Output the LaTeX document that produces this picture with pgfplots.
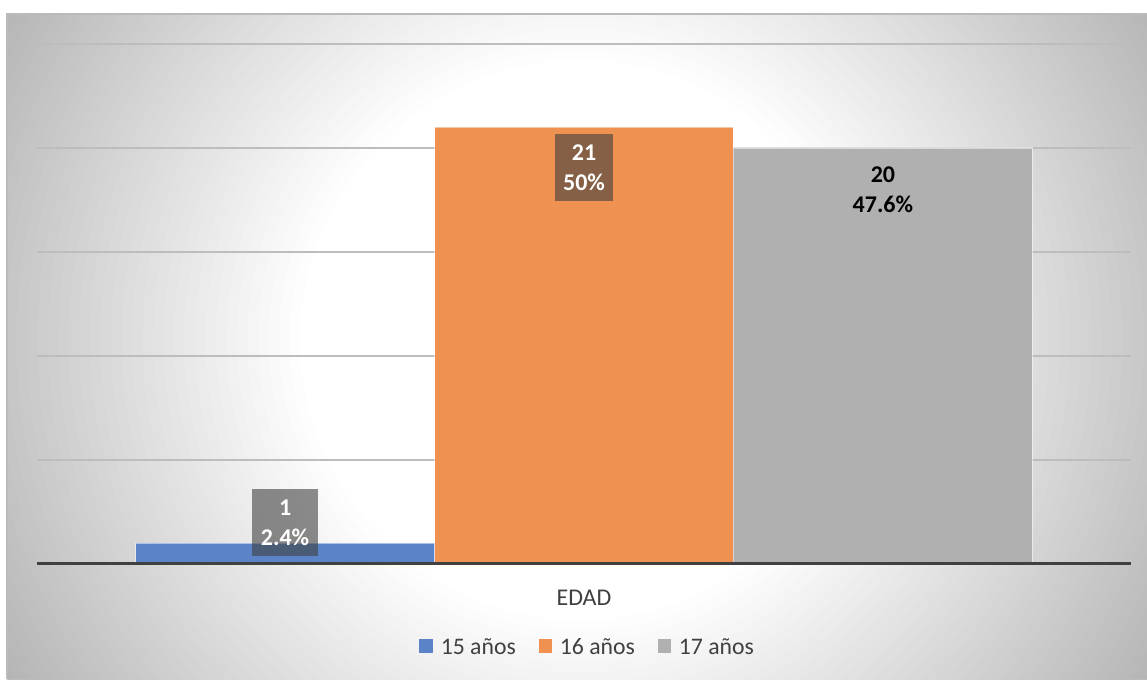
\documentclass[border=0pt]{standalone}
\usepackage{fontspec}
\setmainfont{Carlito}
\usepackage{pgfplots}
\pgfplotsset{compat=1.18}
\definecolor{cblue}{HTML}{5B84C8}
\definecolor{corange}{HTML}{EF9150}
\definecolor{cgray}{HTML}{B0B0B0}
\definecolor{ctext}{HTML}{404040}
\begin{document}
\begin{tikzpicture}
\path[use as bounding box] (-27.75pt,-86.25pt) rectangle (832.5pt,423pt);
\fill[white] (-27.75pt,-86.25pt) rectangle (832.5pt,423pt);
\begin{scope}
\clip (-22.5pt,-86.25pt) rectangle (832.5pt,412.5pt);
\foreach \i in {0,...,39} {
  \fill[black, fill opacity=0.008, even odd rule] (-30pt,-90pt) rectangle (840pt,420pt)
    (407.25pt,168pt) circle ({210pt+\i*7.875pt});
}
\end{scope}
\draw[black!27, line width=1.2pt] (-22.5pt,-86.25pt) -- (-22.5pt,412.5pt) -- (832.5pt,412.5pt);
\begin{axis}[
  at={(0,0)}, anchor=south west,
  scale only axis, width=820.5pt, height=390pt,
  xmin=-1.83, xmax=1.83, ymin=0, ymax=25,
  axis line style={draw=none},
  ytick={5,10,15,20,25}, yticklabels={}, major tick length=0pt,
  ymajorgrids, major grid style={draw=black!26, line width=0.8pt},
  xtick={0}, xticklabels={EDAD},
  xticklabel style={font=\fontsize{18}{20}\selectfont, text=ctext, anchor=base, yshift=-30.75pt},
  legend style={at={(0.5037,-0.1615)}, anchor=center, draw=none, fill=none,
    legend columns=3, font=\fontsize{17.8}{20}\selectfont, text=ctext,
    /tikz/every even column/.append style={column sep=15pt}},
  legend cell align=left,
  point meta=explicit symbolic,
]
\addplot[ybar, bar width=1, bar shift=0pt, fill=cblue, draw=white, draw opacity=0.5, line width=0.8pt,
  legend image code/.code={\fill[cblue, draw=none] (0pt,-3.5pt) rectangle (10pt,6.5pt); \path[draw=none, fill=none] (0pt,0pt) rectangle (14pt,0.1pt);},
  nodes near coords,
  nodes near coords style={anchor=center, yshift=15.5pt, font=\fontsize{18}{22.5}\selectfont\bfseries,
    text=white, fill=black!75, fill opacity=0.6, text opacity=1, align=center,
    minimum width=50pt, minimum height=50pt, inner sep=0pt}]
  coordinates {(-1,1) [1\\2.4\%]};
\addlegendentry{15 años}
\addplot[ybar, bar width=1, bar shift=0pt, fill=corange, draw=white, draw opacity=0.5, line width=0.8pt,
  legend image code/.code={\fill[corange, draw=none] (0pt,-3.5pt) rectangle (10pt,6.5pt); \path[draw=none, fill=none] (0pt,0pt) rectangle (14pt,0.1pt);},
  nodes near coords,
  nodes near coords style={anchor=center, yshift=-30.4pt, font=\fontsize{18}{22.5}\selectfont\bfseries,
    text=white, fill=black!75, fill opacity=0.6, text opacity=1, align=center,
    minimum width=43.5pt, minimum height=50pt, inner sep=0pt}]
  coordinates {(0,21) [21\\50\%]};
\addlegendentry{16 años}
\addplot[ybar, bar width=1, bar shift=0pt, fill=cgray, draw=white, draw opacity=0.5, line width=0.8pt,
  legend image code/.code={\fill[cgray, draw=none] (0pt,-3.5pt) rectangle (10pt,6.5pt); \path[draw=none, fill=none] (0pt,0pt) rectangle (14pt,0.1pt);},
  nodes near coords,
  nodes near coords style={anchor=center, yshift=-31pt, font=\fontsize{18}{22.5}\selectfont\bfseries,
    text=black, align=center, inner sep=0pt}]
  coordinates {(1,20) [20\\47.6\%]};
\addlegendentry{17 años}
\addplot[draw=black!75, line width=2.4pt, forget plot] coordinates {(-1.83,0) (1.83,0)};
\end{axis}
\end{tikzpicture}
\end{document}
